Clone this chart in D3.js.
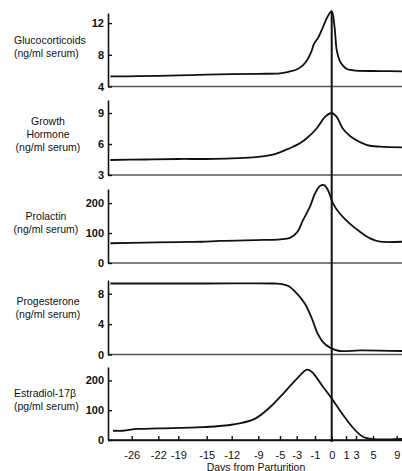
<!DOCTYPE html>
<html><head><meta charset="utf-8">
<script src="https://cdn.jsdelivr.net/npm/d3@7"></script>
<style>
html,body{margin:0;padding:0;background:#fff;}
svg{display:block;font-family:"Liberation Sans",Arial,sans-serif;}
</style></head>
<body><svg id="c" width="402" height="471"></svg>
<script>
// ---- data ----
const xTickValues = [-26,-22,-19,-15,-12,-9,-5,-3,-1,0,1,3,5,9];
const xTitle = "Days from Parturition";

const glucoDays = [-29.2,-25,-19,-15,-9,-5,-4,-3,-2.3,-1.87,-1.4,-1.1,-0.8,-0.5,-0.25,0,0.2,0.35,0.55,0.8,1.2,3,6,9.9];
const glucoVals = [5.27,5.3,5.4,5.5,5.6,5.65,5.85,6.15,6.7,7.3,8.4,9.4,10.2,11.6,12.8,13.5,11.5,8.6,7.3,6.6,6.2,6.0,5.95,5.9];
const glucoTicks = [4,8,12];

const ghDays = [-29.2,-24,-19,-15,-12,-9.6,-7,-5.55,-4.4,-3.44,-2.6,-1.87,-0.88,-0.4,0,0.35,0.75,1.5,2.35,4.3,6.2,9.9];
const ghVals = [4.45,4.5,4.55,4.55,4.6,4.71,4.9,5.1,5.4,5.74,6.1,6.58,7.55,8.62,9.0,8.62,7.55,6.9,6.58,5.9,5.74,5.68];
const ghTicks = [3,6,9];

const prlDays = [-29.2,-24,-19,-15.6,-13.4,-8,-5,-3.8,-2.97,-2.31,-1.55,-1.0,-0.7,-0.46,-0.22,0.09,0.55,1.7,3.47,4.65,6.2,9.9];
const prlVals = [66,68,70,71,74,77,79,84,102,143,188,232,257,260,243,199,166,132,104,82,71,71];
const prlTicks = [0,100,200];

const progDays = [-29.2,-15,-6,-5.0,-4.0,-2.97,-2.1,-1.33,-0.88,-0.52,-0.1,0.55,3.5,9.9];
const progVals = [9.34,9.34,9.34,9.3,9.0,8.0,6.67,4.7,2.95,1.64,0.9,0.46,0.55,0.46];
const progTicks = [0,4,8];

const e2Days = [-28.8,-27.3,-25.2,-21.9,-15.6,-11.85,-9.4,-6.85,-4.64,-2.97,-1.87,-1.33,-0.58,0.02,0.75,2.35,3.8,5,9.9];
const e2Vals = [31,31,37,39,43,52,71,110,155,206,236,228,183,138,87,42,11,3,4];
const e2Ticks = [0,100,200];

const panelLabels = [
  ["Glucocorticoids","(ng/ml serum)"],
  ["Growth","Hormone","(ng/ml serum)"],
  ["Prolactin","(ng/ml serum)"],
  ["Progesterone","(ng/ml serum)"],
  ["Estradiol-17\u03b2","(pg/ml serum)"]
];

// ---- layout ----
const svg = d3.select("#c");
const x = d3.scaleLinear()
  .domain([-29.56,-26,-22,-19,-15,-12,-9,-5,-3,-1,0,1,3,5,9,9.9])
  .range([108,131.7,158.3,178.3,206.7,231.7,258.3,280,296.7,315,331.7,346,356,373,396.7,402]);

const panels = [
  {days:glucoDays, vals:glucoVals, ticks:glucoTicks, dom:[4,13.27], rng:[86.5,13], lab:{anchor:"start",x:14,ys:[43.5,57]}},
  {days:ghDays, vals:ghVals, ticks:ghTicks, dom:[3,10.26], rng:[175,100], lab:{anchor:"middle",x:48,ys:[125,138,151]}},
  {days:prlDays, vals:prlVals, ticks:prlTicks, dom:[0,247], rng:[263,189], lab:{anchor:"middle",x:46,ys:[220,233]}},
  {days:progDays, vals:progVals, ticks:progTicks, dom:[0,9.8], rng:[354.5,280], lab:{anchor:"middle",x:48,ys:[304.5,318]}},
  {days:e2Days, vals:e2Vals, ticks:e2Ticks, dom:[0,245], rng:[440,367], lab:{anchor:"start",x:14,ys:[397,410]}}
];

panels.forEach((p,i)=>{
  const y = d3.scaleLinear().domain(p.dom).range(p.rng);
  // baseline
  svg.append("line").attr("x1",108).attr("x2",402)
    .attr("y1",y(p.dom[0])).attr("y2",y(p.dom[0]))
    .attr("stroke", i===4 ? "#111" : "#555").attr("stroke-width",1.6);
  // y axis
  const ay = svg.append("g").attr("transform","translate(108,0)")
    .call(d3.axisLeft(y).tickValues(p.ticks).tickSizeInner(-4).tickSizeOuter(0).tickPadding(4).tickFormat(d3.format("d")));
  ay.select(".domain").attr("stroke","#111").attr("stroke-width",1.6);
  ay.selectAll(".tick line").attr("stroke","#111").attr("stroke-width",1.4);
  ay.selectAll("text").attr("font-size",11).attr("font-weight","bold").attr("fill","#111")
    .attr("font-family","'Liberation Sans',Arial,sans-serif");
  // curve
  const pts = p.days.map((d,k)=>[d,p.vals[k]]);
  svg.append("path").datum(pts)
    .attr("fill","none").attr("stroke","#111").attr("stroke-width",1.8)
    .attr("stroke-linejoin","round")
    .attr("d", d3.line().x(d=>x(d[0])).y(d=>y(d[1])).curve(d3.curveCatmullRom.alpha(0.5)));
  // label
  const t = svg.append("text").attr("text-anchor",p.lab.anchor).attr("font-size",10.5).attr("fill","#111");
  panelLabels[i].forEach((s,k)=>{
    t.append("tspan").attr("x",p.lab.x).attr("y",p.lab.ys[k]).text(s);
  });
});

// x axis
const ax = svg.append("g").attr("transform","translate(0,440)")
  .call(d3.axisBottom(x).tickValues(xTickValues).tickSizeInner(-4).tickSizeOuter(0).tickPadding(11).tickFormat(d3.format("d")));
ax.select(".domain").attr("stroke","#111").attr("stroke-width",1.6);
ax.selectAll(".tick line").attr("stroke","#111").attr("stroke-width",1.4);
ax.selectAll("text").attr("font-size",11).attr("fill","#111")
  .attr("font-family","'Liberation Sans',Arial,sans-serif").text(d=>d<0 ? "-"+(-d) : d);

svg.append("text").attr("x",256).attr("y",470.5).attr("text-anchor","middle")
  .attr("font-size",10.5).attr("fill","#111").text(xTitle);

// vertical line at parturition
svg.append("line").attr("x1",x(0)).attr("x2",x(0)).attr("y1",11).attr("y2",442)
  .attr("stroke","#111").attr("stroke-width",2);
</script></body></html>
